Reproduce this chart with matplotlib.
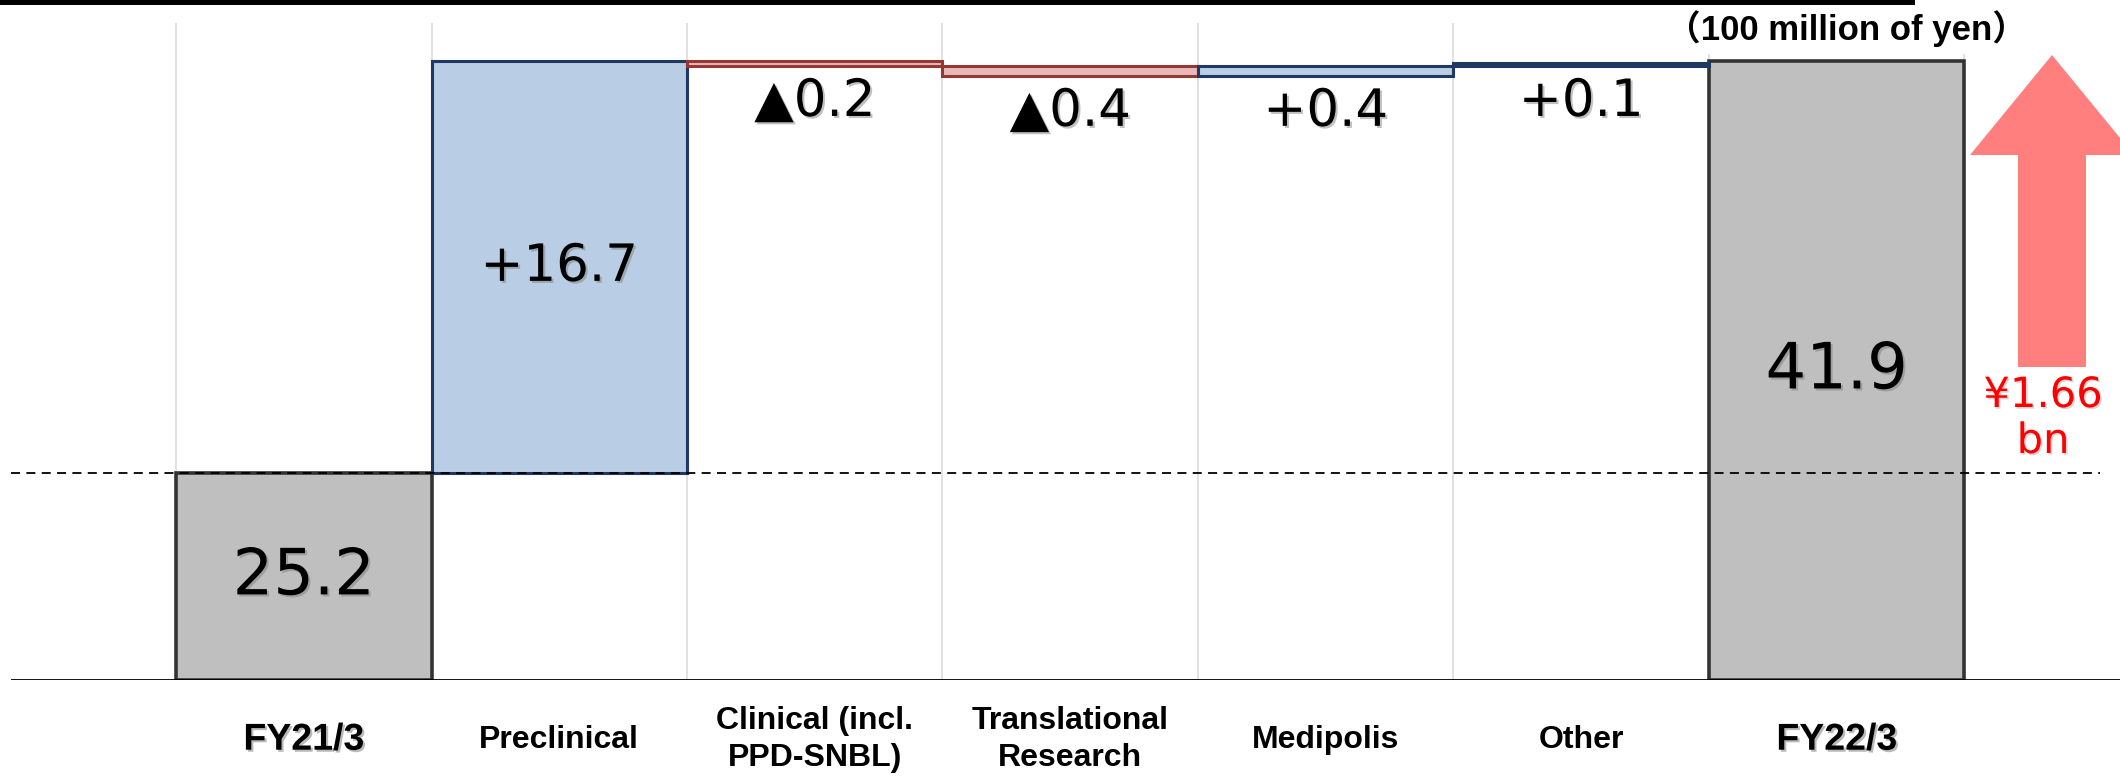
import numpy as np
import matplotlib
matplotlib.use("Agg")
import matplotlib.pyplot as plt
from matplotlib import patches, patheffects

# ---------------- data ----------------
categories = ["FY21/3", "Preclinical", "Clinical (incl.\nPPD-SNBL)",
              "Translational\nResearch", "Medipolis", "Other", "FY22/3"]
start_value = 25.2
changes = [16.7, -0.2, -0.4, 0.4, 0.1]
change_labels = ["+16.7", "▲0.2", "▲0.4", "+0.4", "+0.1"]
end_value = 41.9
unit_label = "（100 million of yen）"
growth_label = "¥1.66\nbn"

# ---------------- figure ----------------
W, H, DPI = 2120, 782, 100
fig = plt.figure(figsize=(W / DPI, H / DPI), dpi=DPI)
fig.patch.set_facecolor("white")


def fx(px):
    return px / W


def fy(py):
    return 1 - py / H


ax = fig.add_axes([0, fy(680), 1, 680 / H])

# broken (piecewise linear) value axis: compressed below the starting value
BREAK = start_value
K = 3.0


def fwd(y):
    y = np.asarray(y, dtype=float)
    return np.where(y <= BREAK, y, BREAK + (y - BREAK) * K)


def inv(u):
    u = np.asarray(u, dtype=float)
    return np.where(u <= BREAK, u, BREAK + (u - BREAK) / K)


ax.set_yscale("function", functions=(fwd, inv))
ax.set_ylim(0, 44.37)
ax.set_xlim(-1.189, 7.109)
for s in ax.spines.values():
    s.set_visible(False)
ax.set_yticks([])

n = len(categories)
xs = np.arange(n)

# grid lines at category boundaries
ax.vlines(np.arange(n + 1) - 0.5, 0, 43.44, colors="#D9D9D9", lw=1.1, zorder=0)

# baseline and reference dashed line
ax.hlines(0, -1.147, 7.109, colors="black", lw=1.3, zorder=5)
ax.hlines(start_value, -1.147, 7.03, colors="black", lw=1.3,
          linestyles=(0, (5, 3.5)), zorder=6)

shadow = [patheffects.SimplePatchShadow(offset=(1.5, -1.5), shadow_rgbFace="#777777", alpha=0.45),
          patheffects.Normal()]

# total bars
gray_kw = dict(width=1.0, color="#BFBFBF", edgecolor="#333333", lw=2.6, zorder=3)
ax.bar(xs[0], start_value, **gray_kw)
ax.bar(xs[-1], end_value, **gray_kw)

# change bars
bottoms = start_value + np.concatenate([[0.0], np.cumsum(changes)[:-1]])
for i, (b, c, lab) in enumerate(zip(bottoms, changes, change_labels), start=1):
    if c >= 0:
        fc, ec = "#B9CDE5", "#1F3864"
    else:
        fc, ec = "#E6B9B8", "#953735"
    ax.bar(xs[i], c, bottom=b, width=1.0, color=fc, edgecolor=ec, lw=2.2, zorder=3)
    if abs(c) > 1:
        ymid = inv((fwd(b) + fwd(b + c)) / 2)
        ax.text(xs[i], ymid, lab, ha="center", va="center", fontsize=37,
                family="DejaVu Sans", color="black", zorder=7, path_effects=shadow)
    else:
        ax.annotate(lab, xy=(xs[i], min(b, b + c)), xytext=(0, -26),
                    textcoords="offset points", ha="center", va="center",
                    fontsize=37, family="DejaVu Sans", color="black", zorder=7,
                    path_effects=shadow)

# total labels
for xi, v in [(xs[0], start_value), (xs[-1], end_value)]:
    ymid = inv((fwd(0) + fwd(v)) / 2)
    ax.text(xi, ymid, f"{v:.1f}", ha="center", va="center", fontsize=46,
            family="DejaVu Sans", color="black", zorder=7, path_effects=shadow)

# category labels
ax.set_xticks(xs, categories)
ax.tick_params(axis="x", length=0, pad=43)
for i, t in enumerate(ax.get_xticklabels()):
    t.set_va("center")
    t.set_multialignment("center")
    t.set_family("Liberation Sans")
    t.set_weight("bold")
    t.set_linespacing(1.32)
    if i in (0, n - 1):
        t.set_fontsize(27)
        t.set_path_effects([patheffects.SimplePatchShadow(offset=(1.5, -1.5), shadow_rgbFace="#777777", alpha=0.5),
                            patheffects.Normal()])
    else:
        t.set_fontsize(23)

# unit label
fig.text(fx(1846), fy(29), unit_label, ha="center", va="center", fontsize=25,
         weight="bold", family=["Liberation Sans", "Noto Sans CJK JP"], color="black",
         bbox=dict(facecolor="white", edgecolor="none", pad=5), zorder=10)

# top black rule
fig.patches.append(patches.Rectangle((0, fy(5)), fx(1915), 5 / H, transform=fig.transFigure,
                                     facecolor="black", edgecolor="none", zorder=12))

# growth arrow
arrow = patches.FancyArrow(fx(2052), fy(367), 0, fy(55) - fy(367), width=fx(68),
                           head_width=fx(164), head_length=100 / H,
                           length_includes_head=True, transform=fig.transFigure,
                           facecolor="#FF7F7F", edgecolor="none", zorder=9)
fig.patches.append(arrow)
fig.text(fx(2043), fy(418), growth_label, ha="center", va="center", fontsize=30,
         family="DejaVu Sans", color="#FF0000", linespacing=1.12, multialignment="center",
         path_effects=[patheffects.SimplePatchShadow(offset=(1.2, -1.2), shadow_rgbFace="#999999", alpha=0.4),
                       patheffects.Normal()], zorder=10)

fig.savefig("out.png", dpi=DPI)
